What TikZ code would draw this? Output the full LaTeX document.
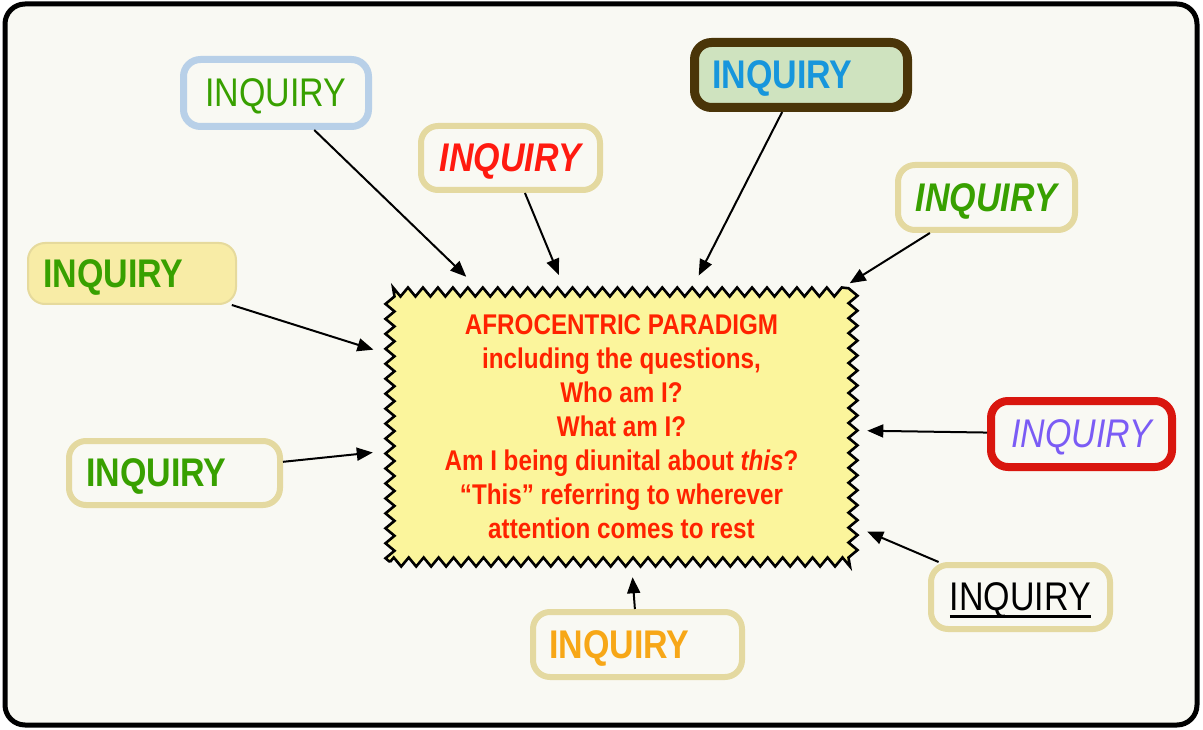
\documentclass[tikz,border=0pt]{standalone}
\usepackage{fontspec}
\setmainfont[FakeStretch=0.85]{Liberation Sans}
\usetikzlibrary{arrows.meta,decorations.pathmorphing}
\definecolor{bgc}{HTML}{F9F9F3}
\definecolor{cyel}{HTML}{FBF59C}
\definecolor{cred}{HTML}{FF2200}
\definecolor{khaki}{HTML}{E4D9A0}
\definecolor{lblue}{HTML}{B8D0E8}
\definecolor{brownb}{HTML}{4A3508}
\definecolor{lgreen}{HTML}{CFE3BF}
\definecolor{cblue}{HTML}{1796DC}
\definecolor{cgreen}{HTML}{38A000}
\definecolor{cred2}{HTML}{FF1A10}
\definecolor{cpurple}{HTML}{7B5CF5}
\definecolor{redb}{HTML}{D9160E}
\definecolor{corange}{HTML}{F7A717}
\definecolor{yfill}{HTML}{F8ECA6}
\definecolor{ybord}{HTML}{E6DA9C}
\newcommand\myul[1]{\setbox0\hbox{#1}\rlap{\rule[-7pt]{\wd0}{2.6pt}}\box0}
\begin{document}
\begin{tikzpicture}[x=1pt,y=-1pt,
  inq/.style={rectangle, rounded corners=17pt, draw=khaki, line width=6pt, fill=bgc,
    inner ysep=0pt, inner xsep=0pt, text depth=0pt, font=\fontsize{40}{48}\selectfont},
  arr/.style={line width=2pt, -{Triangle[length=16pt,width=13pt]}, shorten >=16pt},
  paradigm/.style={draw, decorate, decoration={zigzag,segment length=14.959pt,amplitude=4.5pt},
    fill=cyel, line width=2.6pt, line join=miter, text=cred, align=center,
    font=\fontsize{28.5}{34}\selectfont\bfseries}]
\useasboundingbox (0,0) rectangle (1203,730);
\fill[white] (0,0) rectangle (1203,730);
\draw[line width=5pt, rounded corners=20pt, fill=bgc] (5,4) rectangle (1197,725);

\node[paradigm, minimum width=463pt, minimum height=270pt] (P) at (621.5,427)
 {AFROCENTRIC PARADIGM\\including the questions,\\Who am I?\\What am I?\\Am I being diunital about \textit{this}?\\“This” referring to wherever\\attention comes to rest};

\node[inq, draw=lblue, line width=7pt, minimum width=185pt, minimum height=67pt, text=cgreen] (b1) at (276,93) {INQUIRY};
\node[inq, minimum width=179pt, minimum height=64pt, text=cred2] (b2) at (510.5,158) {\bfseries\itshape INQUIRY};
\node[inq, draw=brownb, fill=lgreen, line width=9pt, minimum height=65pt, text width=178pt, inner xsep=17.5pt, align=left, text=cblue] (b3) at (801,75) {\bfseries INQUIRY};
\node[inq, minimum width=177pt, minimum height=65pt, text=cgreen] (b4) at (986.5,197.5) {\bfseries\itshape INQUIRY};
\node[inq, draw=ybord, fill=yfill, line width=2pt, minimum height=61pt, text width=178pt, inner xsep=15pt, align=left, text=cgreen] (b5) at (132,273.5) {\bfseries INQUIRY};
\node[inq, minimum height=64pt, text width=177pt, inner xsep=17pt, align=left, text=cgreen] (b6) at (174.5,473) {\bfseries INQUIRY};
\node[inq, draw=redb, line width=8pt, minimum width=181pt, minimum height=66pt, text=cpurple] (b7) at (1081.5,434) {\itshape INQUIRY};
\node[inq, minimum width=179pt, minimum height=64pt, text=black] (b8) at (1020.5,597) {\myul{INQUIRY}};
\node[inq, minimum height=65pt, text width=177pt, inner xsep=16pt, align=left, text=corange] (b9) at (637.5,644.5) {\bfseries INQUIRY};

\draw[arr, shorten >=20pt] (b1) -- (P);
\draw[arr, shorten >=17pt] (b2) -- (P);
\draw[arr, shorten >=17pt] (b3) -- (P);
\draw[arr, shorten >=14pt] (b4) -- (P);
\draw[arr] (b5) -- (P);
\draw[arr] (b6) -- (P);
\draw[arr, shorten >=13pt] (b7) -- (P);
\draw[arr, shorten >=14pt] (b8) -- (P);
\draw[arr, shorten >=14pt] (b9) -- (P);
\end{tikzpicture}
\end{document}
